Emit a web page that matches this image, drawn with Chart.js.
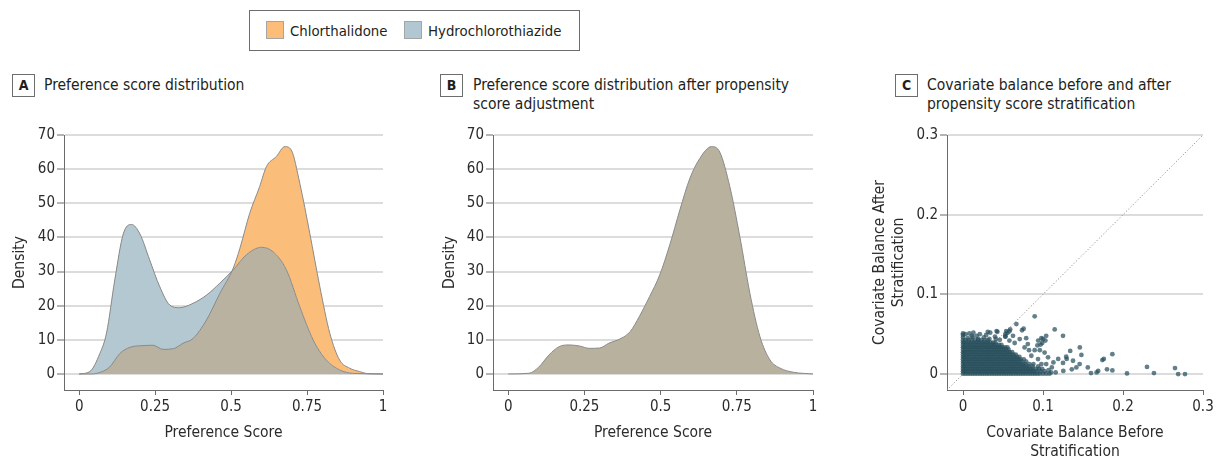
<!DOCTYPE html>
<html lang="en">
<head>
<meta charset="UTF-8">
<title>Preference score distribution</title>
<script src="https://cdn.jsdelivr.net/npm/chart.js"></script>
<style>
  body { margin:0; width:1217px; height:461px; overflow:hidden; background:#fff; position:relative;
         font-family:'DejaVu Sans Condensed','DejaVu Sans',sans-serif; color:#231f20; }
  .abs { position:absolute; }
  .legend { left:249px; top:10px; width:331px; height:41px; border:1px solid #6d6d6d; box-sizing:border-box; }
  .swatch { width:18px; height:18px; box-sizing:border-box; border:1px solid #a5a5a5; }
  .ltext { font-size:14.8px; line-height:20px; white-space:nowrap; }
  .tag { width:23px; height:23px; box-sizing:border-box; border:1px solid #6d6d6d; font-weight:bold;
         font-size:14px; line-height:21px; text-align:center; }
  .title { font-size:15.5px; line-height:19px; white-space:nowrap; }
  .panel { top:120px; height:345px; }
</style>
</head>
<body>

<div class="abs legend"></div>
<div class="abs swatch" style="left:266px; top:21px; background:#fbbd78;"></div>
<div class="abs ltext" style="left:290px; top:21px;">Chlorthalidone</div>
<div class="abs swatch" style="left:404px; top:21px; background:#b1c8d2;"></div>
<div class="abs ltext" style="left:428px; top:21px;">Hydrochlorothiazide</div>

<div class="abs tag" style="left:12px; top:74px;">A</div>
<div class="abs title" style="left:44px; top:76px;">Preference score distribution</div>
<div class="abs tag" style="left:440px; top:74px;">B</div>
<div class="abs title" style="left:473px; top:76px;">Preference score distribution after propensity<br>score adjustment</div>
<div class="abs tag" style="left:895px; top:74px;">C</div>
<div class="abs title" style="left:927px; top:76px;">Covariate balance before and after<br>propensity score stratification</div>

<div class="abs panel" style="left:0px; width:400px;"><canvas id="chartA"></canvas></div>
<div class="abs panel" style="left:430px; width:400px;"><canvas id="chartB"></canvas></div>
<div class="abs panel" style="left:860px; width:357px;"><canvas id="chartC"></canvas></div>

<script>
// ---- data ----
const scoreTicks = [0, 0.25, 0.5, 0.75, 1];
const scoreTickLabels = ['0', '0.25', '0.5', '0.75', '1'];
const densityTicks = [0, 10, 20, 30, 40, 50, 60, 70];

// panel A: chlorthalidone
const chlorScore   = [0, 0.04, 0.07, 0.1, 0.134, 0.167, 0.21, 0.243, 0.276, 0.31, 0.342, 0.375, 0.419, 0.463, 0.507, 0.529, 0.561, 0.594, 0.616, 0.649, 0.677, 0.698, 0.726, 0.759, 0.792, 0.825, 0.857, 0.89, 0.923, 0.95, 1];
const chlorDensity = [0, 0, 0.5, 2, 6, 7.8, 8.3, 8.4, 7.2, 7.4, 9, 10.4, 15.8, 23.6, 31, 36.8, 47, 54.9, 60.7, 63.7, 66.6, 65.6, 55.9, 41.2, 25.6, 11.9, 4.1, 1.7, 0.7, 0.1, 0];
// panel A: hydrochlorothiazide
const hctzScore    = [0, 0.035, 0.068, 0.09, 0.117, 0.145, 0.172, 0.2, 0.232, 0.265, 0.298, 0.33, 0.375, 0.419, 0.463, 0.507, 0.55, 0.6, 0.638, 0.682, 0.726, 0.77, 0.813, 0.857, 0.9, 1];
const hctzDensity  = [0, 0.7, 6, 12, 27.5, 41, 43.8, 41, 33.4, 25.6, 20.2, 19.4, 20.7, 23.1, 26.6, 30.5, 34.9, 37.1, 35.8, 30.5, 19.7, 10, 4.1, 1.2, 0.2, 0];
// panel B: after adjustment (both groups coincide)
const adjScore     = [0, 0.068, 0.1, 0.134, 0.167, 0.2, 0.233, 0.266, 0.3, 0.33, 0.37, 0.4, 0.43, 0.464, 0.497, 0.53, 0.563, 0.596, 0.629, 0.667, 0.694, 0.727, 0.76, 0.793, 0.826, 0.859, 0.892, 0.936, 1];
const adjDensity   = [0, 0.2, 2, 5.6, 8, 8.5, 8.2, 7.5, 7.6, 9, 10.4, 12.4, 16.8, 22.7, 29, 37.8, 48, 57.3, 63.2, 66.6, 65, 54.9, 40.2, 23.6, 10.9, 4.1, 1.7, 0.5, 0];

// panel C
const balanceTicks = [0, 0.1, 0.2, 0.3];
const balanceTickLabels = ['0', '0.1', '0.2', '0.3'];
const diagonal = [-0.02, 0.3];
// dense core: balance after (one value per row) and balance before values in that row
const coreAfter = [0.0005, 0.0035, 0.0065, 0.0095, 0.0125, 0.0155, 0.0185, 0.0215, 0.0245, 0.0275, 0.0305, 0.0335, 0.0365, 0.0395, 0.0425];
const coreBefore = [
  [0,.003,.006,.009,.012,.015,.018,.021,.024,.027,.03,.033,.036,.039,.042,.045,.048,.051,.054,.057,.06,.063,.066,.069,.072,.075,.078,.081,.084,.087,.09,.093,.096,.1,.104,.108],
  [0,.0015,.0045,.0075,.0105,.0135,.0165,.0195,.0225,.0255,.0285,.0315,.0345,.0375,.0405,.0435,.0465,.0495,.0525,.0555,.0585,.0615,.0645,.0675,.0705,.0735,.0765,.0795,.0825,.0855,.0885,.092,.097,.102],
  [0,.003,.006,.009,.012,.015,.018,.021,.024,.027,.03,.033,.036,.039,.042,.045,.048,.051,.054,.057,.06,.063,.066,.069,.072,.075,.078,.081,.084,.087,.091,.095,.099],
  [0,.0015,.0045,.0075,.0105,.0135,.0165,.0195,.0225,.0255,.0285,.0315,.0345,.0375,.0405,.0435,.0465,.0495,.0525,.0555,.0585,.0615,.0645,.0675,.0705,.0735,.0765,.0795,.0825,.087,.094],
  [0,.003,.006,.009,.012,.015,.018,.021,.024,.027,.03,.033,.036,.039,.042,.045,.048,.051,.054,.057,.06,.063,.066,.069,.072,.075,.078,.083,.088],
  [0,.0015,.0045,.0075,.0105,.0135,.0165,.0195,.0225,.0255,.0285,.0315,.0345,.0375,.0405,.0435,.0465,.0495,.0525,.0555,.0585,.0615,.0645,.0675,.0705,.0735,.079],
  [0,.003,.006,.009,.012,.015,.018,.021,.024,.027,.03,.033,.036,.039,.042,.045,.048,.051,.054,.057,.06,.063,.066,.069,.072,.076],
  [0,.0015,.0045,.0075,.0105,.0135,.0165,.0195,.0225,.0255,.0285,.0315,.0345,.0375,.0405,.0435,.0465,.0495,.0525,.0555,.0585,.0615,.0645,.0675,.0705],
  [0,.003,.006,.009,.012,.015,.018,.021,.024,.027,.03,.033,.036,.039,.042,.045,.048,.051,.054,.057,.06,.063,.066],
  [0,.0015,.0045,.0075,.0105,.0135,.0165,.0195,.0225,.0255,.0285,.0315,.0345,.0375,.0405,.0435,.0465,.0495,.0525,.0555,.0585,.0615],
  [0,.003,.006,.009,.012,.015,.018,.021,.024,.027,.03,.033,.036,.039,.042,.045,.048,.051,.054,.057],
  [0,.0015,.0045,.0075,.0105,.0135,.0165,.0195,.0225,.0255,.0285,.0315,.0345,.0375,.0405,.0435,.0465,.0495,.0525,.0555],
  [0,.003,.006,.009,.012,.015,.018,.021,.024,.027,.03,.033,.036,.039,.042,.045,.048],
  [0,.0015,.0045,.0075,.0105,.0135,.0165,.0195,.0225,.0255,.0285,.0315,.0345,.0375,.0405],
  [0,.003,.007,.011,.015,.019,.023,.027,.031]
];
// scattered covariates: [balance before, balance after]
const scatteredPairs = [
  [0,.046],[.006,.045],[.012,.046],[.019,.044],[.026,.046],[.033,.044],[.041,.044],[.046,.043],
  [0,.049],[.003,.05],[.011,.048],[.017,.048],[.029,.049],[.04,.047],[.053,.047],
  [0,.051],[.008,.051],[.013,.052],[.021,.05],[.031,.053],[.034,.052],[.043,.053],[.053,.05],[.058,.0535],
  [.0529,.047],[.0555,.0516],[.059,.056],[.054,.054],[.042,.054],[.0667,.0627],[.0738,.055],[.0758,.057],
  [.0896,.0725],[.0625,.048],[.0646,.039],[.058,.042],[.0709,.0439],[.077,.0334],[.081,.0376],
  [.0896,.03],[.0854,.023],[.0825,.03],[.079,.045],[.094,.042],[.097,.037],[.099,.039],[.1,.044],
  [.103,.042],[.104,.048],[.098,.045],[.093,.036],[.096,.03],[.102,.027],[.1063,.021],[.0938,.0188],
  [.098,.0125],[.104,.0125],[.113,.0146],[.111,.0083],[.119,.019],[.11,.002],[.1158,.002],[.107,.005],
  [.1146,.056],[.125,.048],[.146,.0334],[.134,.029],[.148,.024],[.129,.0217],[.1296,.019],[.125,.014],
  [.1375,.0167],[.1417,.0083],[.136,.006],[.1458,.0125],[.1254,.004],[.156,.0083],[.16,.0013],
  [.167,.002],[.169,.004],[.1742,.0175],[.176,.019],[.18,.006],[.1867,.025],[.1867,.0046],
  [.205,.0008],[.23,.009],[.2387,.0012],[.265,.0075],[.269,0],[.2775,0]
];

Chart.defaults.font.family = "'DejaVu Sans Condensed', 'DejaVu Sans', sans-serif";
Chart.defaults.font.size = 15;
Chart.defaults.color = '#2b2b2b';
Chart.defaults.animation = false;
Chart.defaults.devicePixelRatio = 1;
Chart.defaults.plugins.legend.display = false;
Chart.defaults.plugins.tooltip.enabled = false;

const gridGray = '#dcdcdc';
const axisGray = '#6b6b6b';
const curveGray = '#8a8a8a';
const titleFont = { size: 15.5, lineHeight: 1.25 };

const toPoints = (xs, ys) => xs.map((x, i) => ({ x: x, y: ys[i] }));

function xAxis(min, max, ticks, labels, title, padBottom) {
  return {
    type: 'linear', min: min, max: max,
    afterBuildTicks: s => { s.ticks = ticks.map(v => ({ value: v })); },
    afterFit: s => { s.height = 75; },
    ticks: { autoSkip: false, maxRotation: 0, padding: 3, callback: (v, i) => labels[i] },
    grid: { drawOnChartArea: false, tickLength: 5, tickColor: axisGray, tickWidth: 1 },
    border: { color: axisGray, width: 1 },
    title: { display: true, text: title, font: titleFont, padding: { top: 0, bottom: padBottom } }
  };
}

function yAxis(min, max, ticks, labels, title, width) {
  return {
    type: 'linear', min: min, max: max,
    afterBuildTicks: s => { s.ticks = ticks.map(v => ({ value: v })); },
    afterFit: s => { s.width = width; },
    ticks: { padding: 2, callback: (v, i) => labels[i] },
    grid: { color: gridGray, lineWidth: 2, tickLength: 7, tickColor: axisGray, tickWidth: 1 },
    border: { color: axisGray, width: 1 },
    title: { display: true, text: title, font: titleFont, padding: { top: 10, bottom: 0 } }
  };
}

const densityOptions = (yWidth) => ({
  responsive: true,
  maintainAspectRatio: false,
  layout: { padding: { top: 15, right: 17, bottom: 0, left: 0 } },
  elements: { point: { radius: 0 }, line: { borderWidth: 1, borderColor: curveGray, cubicInterpolationMode: 'monotone' } },
  plugins: { filler: { drawTime: 'beforeDatasetsDraw' } },
  scales: {
    x: xAxis(-0.05, 1, scoreTicks, scoreTickLabels, 'Preference Score', 22),
    y: yAxis(-4.7, 70, densityTicks, densityTicks.map(String), 'Density', yWidth)
  }
});

// A: area under both curves is tan, the part above the lower curve takes the colour of the higher one
new Chart(document.getElementById('chartA'), {
  type: 'line',
  data: {
    datasets: [
      { label: 'Chlorthalidone', data: toPoints(chlorScore, chlorDensity),
        fill: { target: 1, above: '#fbbe7a', below: '#b3c8d1' } },
      { label: 'Hydrochlorothiazide', data: toPoints(hctzScore, hctzDensity),
        fill: { target: 'origin', above: '#b9b2a0' } }
    ]
  },
  options: densityOptions(64)
});

new Chart(document.getElementById('chartB'), {
  type: 'line',
  data: {
    datasets: [
      { label: 'Adjusted', data: toPoints(adjScore, adjDensity),
        fill: { target: 'origin', above: '#b8b19e' } }
    ]
  },
  options: densityOptions(63)
});

const scatterPoints = [];
coreAfter.forEach((y, i) => coreBefore[i].forEach(x => scatterPoints.push({ x: x, y: y })));
scatteredPairs.forEach(p => scatterPoints.push({ x: p[0], y: p[1] }));

new Chart(document.getElementById('chartC'), {
  type: 'scatter',
  data: {
    datasets: [
      { label: 'Covariates', data: scatterPoints, backgroundColor: 'rgba(40,79,93,0.72)',
        borderWidth: 0, pointRadius: 2.4, pointHoverRadius: 2.4, order: 0 },
      { type: 'line', label: 'Equal balance', data: toPoints(diagonal, diagonal),
        borderColor: '#8f8f8f', borderWidth: 1, borderDash: [1.2, 2], pointRadius: 0, fill: false, order: 1 }
    ]
  },
  options: {
    responsive: true,
    maintainAspectRatio: false,
    layout: { padding: { top: 15, right: 14, bottom: 0, left: 0 } },
    scales: {
      x: xAxis(-0.02, 0.3, balanceTicks, balanceTickLabels, ['Covariate Balance Before', 'Stratification'], 3),
      y: yAxis(-0.02, 0.3, balanceTicks, balanceTickLabels, ['Covariate Balance After', 'Stratification'], 87)
    }
  }
});
</script>
</body>
</html>
